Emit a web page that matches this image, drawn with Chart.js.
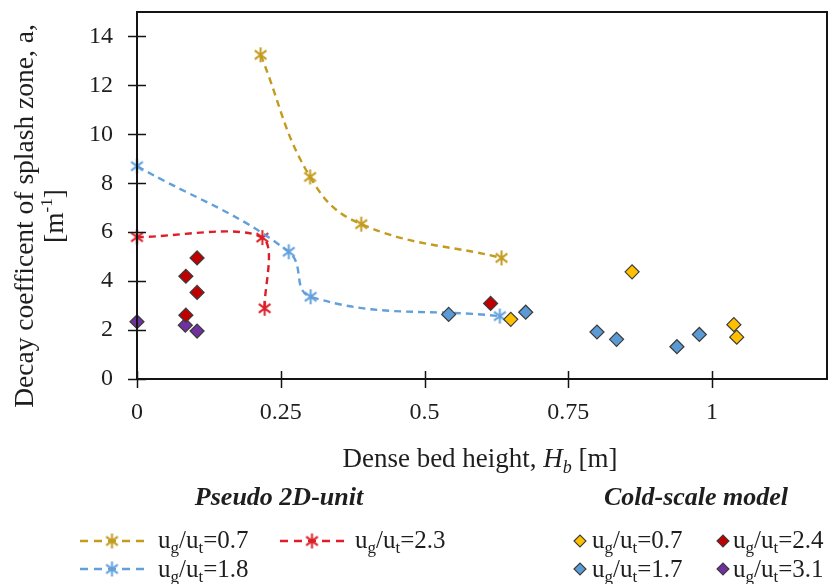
<!DOCTYPE html>
<html lang="en">
<head>
    <meta charset="UTF-8">
    <title>Decay coefficient of splash zone</title>
    <script src="https://cdn.jsdelivr.net/npm/chart.js"></script>
    <style>
        html, body { margin: 0; padding: 0; background: #fff; }
        #chart { display: block; }
    </style>
</head>
<body>
    <canvas id="chart" width="838" height="584"></canvas>

    <script>
        // Ejes
        const xTickValues = [0, 0.25, 0.5, 0.75, 1];
        const xTickLabels = ['0', '0.25', '0.5', '0.75', '1'];
        const yTickValues = [0, 2, 4, 6, 8, 10, 12, 14];
        const yTickLabels = ['0', '2', '4', '6', '8', '10', '12', '14'];

        // Pseudo 2D-unit (asteriscos + linea suavizada)
        const p2d07X = [0.215, 0.301, 0.390, 0.634];
        const p2d07Y = [13.25, 8.26, 6.33, 4.95];
        const p2d18X = [0, 0.264, 0.302, 0.631];
        const p2d18Y = [8.7, 5.2, 3.36, 2.57];
        const p2d23X = [0, 0.218, 0.222];
        const p2d23Y = [5.8, 5.78, 2.89];

        // Cold-scale model (rombos)
        const cold07X = [0.650, 0.861, 1.038, 1.043];
        const cold07Y = [2.44, 4.38, 2.22, 1.71];
        const cold17X = [0.542, 0.676, 0.800, 0.834, 0.939, 0.978];
        const cold17Y = [2.64, 2.73, 1.92, 1.62, 1.32, 1.82];
        const cold24X = [0.1045, 0.085, 0.1045, 0.085, 0.615];
        const cold24Y = [4.95, 4.20, 3.54, 2.61, 3.09];
        const cold31X = [0, 0.084, 0.1045];
        const cold31Y = [2.34, 2.20, 1.96];

        const SERIF = "'Liberation Serif', 'Times New Roman', serif";
        const TEXT = '#1e1e1e';
        const GOLD = '#c39b1e', BLUE = '#62a0dc', RED = '#dc1e28';
        const C_GOLD = '#ffc000', C_BLUE = '#5b9bd5', C_RED = '#c00000', C_PURPLE = '#7030a0';
        const EDGE = '#3c3c3c';

        const pts = (xs, ys) => xs.map((x, i) => ({ x: x, y: ys[i] }));

        // Marcador asterisco (vertical + X)
        function makeStar(color, size, lw) {
            const c = document.createElement('canvas');
            c.width = c.height = size;
            const g = c.getContext('2d');
            const m = size / 2, r = size / 2 - 1;
            const d = r * 0.78;
            g.strokeStyle = color;
            g.lineWidth = lw;
            g.beginPath();
            g.moveTo(m, m - r); g.lineTo(m, m + r);
            g.moveTo(m - d, m - d * 0.75); g.lineTo(m + d, m + d * 0.75);
            g.moveTo(m - d, m + d * 0.75); g.lineTo(m + d, m - d * 0.75);
            g.stroke();
            return c;
        }
        const starGold = makeStar(GOLD, 17, 2);
        const starBlue = makeStar(BLUE, 17, 2);
        const starRed = makeStar(RED, 17, 2);

        function lineSet(label, data, color, star, tension) {
            return {
                label: label, data: data, showLine: true,
                borderColor: color, borderWidth: 2.4, borderDash: [7, 5],
                tension: tension, pointStyle: star, pointRadius: 8,
                clip: false, order: 2
            };
        }
        function diamondSet(label, data, color) {
            return {
                label: label, data: data, showLine: false,
                pointStyle: 'rectRot', pointRadius: 7,
                backgroundColor: color, borderColor: EDGE, borderWidth: 1.2,
                clip: false, order: 1
            };
        }

        // Texto con subindices / cursiva
        function richText(ctx, parts, x, y, align) {
            let total = 0;
            parts.forEach(p => {
                ctx.font = (p.style || '') + ' ' + p.size + 'px ' + SERIF;
                p.w = ctx.measureText(p.t).width;
                total += p.w;
            });
            let cx = align === 'center' ? x - total / 2 : x;
            parts.forEach(p => {
                ctx.font = (p.style || '') + ' ' + p.size + 'px ' + SERIF;
                ctx.fillText(p.t, cx, y + (p.dy || 0));
                cx += p.w;
            });
        }
        function ratioLabel(value) {
            return [
                { t: 'u', size: 25 }, { t: 'g', size: 17, dy: 5 },
                { t: '/u', size: 25 }, { t: 't', size: 17, dy: 5 },
                { t: '=' + value, size: 25 }
            ];
        }

        const framePlugin = {
            id: 'frame',
            afterDraw(chart) {
                const ctx = chart.ctx;
                const a = chart.chartArea;
                const xs = chart.scales.x, ys = chart.scales.y;
                ctx.save();
                // marco
                ctx.strokeStyle = '#141414';
                ctx.lineWidth = 2;
                ctx.strokeRect(a.left, a.top, a.right - a.left, a.bottom - a.top);
                // marcas de eje cruzadas
                ctx.lineWidth = 1.5;
                ctx.beginPath();
                ys.ticks.forEach((t, i) => {
                    const py = Math.round(ys.getPixelForTick(i)) + 0.5;
                    ctx.moveTo(a.left - 9, py); ctx.lineTo(a.left + 9, py);
                });
                xs.ticks.forEach((t, i) => {
                    const px = Math.round(xs.getPixelForTick(i)) + 0.5;
                    ctx.moveTo(px, a.bottom - 8); ctx.lineTo(px, a.bottom + 9);
                });
                ctx.stroke();

                ctx.fillStyle = TEXT;
                ctx.textBaseline = 'alphabetic';
                ctx.textAlign = 'left';

                // titulo eje x
                richText(ctx, [
                    { t: 'Dense bed height, ', size: 27 },
                    { t: 'H', size: 27, style: 'italic' },
                    { t: 'b', size: 18, style: 'italic', dy: 6 },
                    { t: ' [m]', size: 27 }
                ], 480, 467, 'center');

                // titulo eje y
                ctx.save();
                ctx.translate(0, 216);
                ctx.rotate(-Math.PI / 2);
                richText(ctx, [{ t: 'Decay coefficent of splash zone, a,', size: 27.5 }], 0, 33, 'center');
                richText(ctx, [
                    { t: '[m', size: 27.5 },
                    { t: '-1', size: 17, dy: -11 },
                    { t: ']', size: 27.5 }
                ], 0, 63, 'center');
                ctx.restore();

                // leyenda
                richText(ctx, [{ t: 'Pseudo 2D-unit', size: 26, style: 'italic bold' }], 279, 505, 'center');
                richText(ctx, [{ t: 'Cold-scale model', size: 26, style: 'italic bold' }], 696, 505, 'center');

                const starRows = [
                    { x: 80, y: 541, color: GOLD, star: starGold, text: '0.7', tx: 158, ty: 548 },
                    { x: 280, y: 541, color: RED, star: starRed, text: '2.3', tx: 355, ty: 548 },
                    { x: 80, y: 569, color: BLUE, star: starBlue, text: '1.8', tx: 158, ty: 577 }
                ];
                starRows.forEach(r => {
                    ctx.save();
                    ctx.strokeStyle = r.color;
                    ctx.lineWidth = 2.4;
                    ctx.setLineDash([8, 6]);
                    ctx.beginPath();
                    ctx.moveTo(r.x, r.y); ctx.lineTo(r.x + 64, r.y);
                    ctx.stroke();
                    ctx.restore();
                    ctx.drawImage(r.star, r.x + 32 - r.star.width / 2, r.y - r.star.height / 2);
                    richText(ctx, ratioLabel(r.text), r.tx, r.ty, 'left');
                });

                const diaRows = [
                    { x: 580, y: 541, color: C_GOLD, text: '0.7', tx: 592, ty: 548 },
                    { x: 723, y: 541, color: C_RED, text: '2.4', tx: 733, ty: 548 },
                    { x: 580, y: 569, color: C_BLUE, text: '1.7', tx: 592, ty: 577 },
                    { x: 723, y: 569, color: C_PURPLE, text: '3.1', tx: 733, ty: 577 }
                ];
                diaRows.forEach(r => {
                    ctx.beginPath();
                    ctx.moveTo(r.x - 6, r.y); ctx.lineTo(r.x, r.y - 6);
                    ctx.lineTo(r.x + 6, r.y); ctx.lineTo(r.x, r.y + 6);
                    ctx.closePath();
                    ctx.fillStyle = r.color;
                    ctx.fill();
                    ctx.lineWidth = 1.1;
                    ctx.strokeStyle = EDGE;
                    ctx.stroke();
                    ctx.fillStyle = TEXT;
                    richText(ctx, ratioLabel(r.text), r.tx, r.ty, 'left');
                });
                ctx.restore();
            }
        };

        function noPad(s) {
            s.paddingTop = 0; s.paddingBottom = 0;
            s.paddingLeft = 0; s.paddingRight = 0;
        }

        new Chart(document.getElementById('chart'), {
            type: 'scatter',
            data: {
                datasets: [
                    lineSet('Pseudo 2D u_g/u_t=0.7', pts(p2d07X, p2d07Y), GOLD, starGold, 0.42),
                    lineSet('Pseudo 2D u_g/u_t=1.8', pts(p2d18X, p2d18Y), BLUE, starBlue, 0.42),
                    lineSet('Pseudo 2D u_g/u_t=2.3', pts(p2d23X, p2d23Y), RED, starRed, 0.3),
                    diamondSet('Cold u_g/u_t=0.7', pts(cold07X, cold07Y), C_GOLD),
                    diamondSet('Cold u_g/u_t=1.7', pts(cold17X, cold17Y), C_BLUE),
                    diamondSet('Cold u_g/u_t=2.4', pts(cold24X, cold24Y), C_RED),
                    diamondSet('Cold u_g/u_t=3.1', pts(cold31X, cold31Y), C_PURPLE)
                ]
            },
            options: {
                responsive: false,
                animation: false,
                layout: { padding: { left: 0, top: 12, right: 11, bottom: 0 } },
                plugins: {
                    legend: { display: false },
                    tooltip: { enabled: false }
                },
                scales: {
                    x: {
                        type: 'linear', min: 0, max: 1.2,
                        grid: { display: false, drawTicks: false },
                        border: { display: false },
                        afterBuildTicks: s => { s.ticks = xTickValues.map(v => ({ value: v })); },
                        afterFit: s => { s.height = 205; noPad(s); },
                        ticks: {
                            font: { family: SERIF, size: 24 }, color: TEXT, padding: 19,
                            maxRotation: 0, autoSkip: false,
                            callback: (v) => xTickLabels[xTickValues.indexOf(v)]
                        }
                    },
                    y: {
                        type: 'linear', min: 0, max: 15,
                        grid: { display: false, drawTicks: false },
                        border: { display: false },
                        afterBuildTicks: s => { s.ticks = yTickValues.map(v => ({ value: v })); },
                        afterFit: s => { s.width = 137; noPad(s); },
                        ticks: {
                            font: { family: SERIF, size: 24 }, color: TEXT, padding: 24,
                            autoSkip: false,
                            callback: (v) => yTickLabels[yTickValues.indexOf(v)]
                        }
                    }
                }
            },
            plugins: [framePlugin]
        });
    </script>
</body>
</html>
